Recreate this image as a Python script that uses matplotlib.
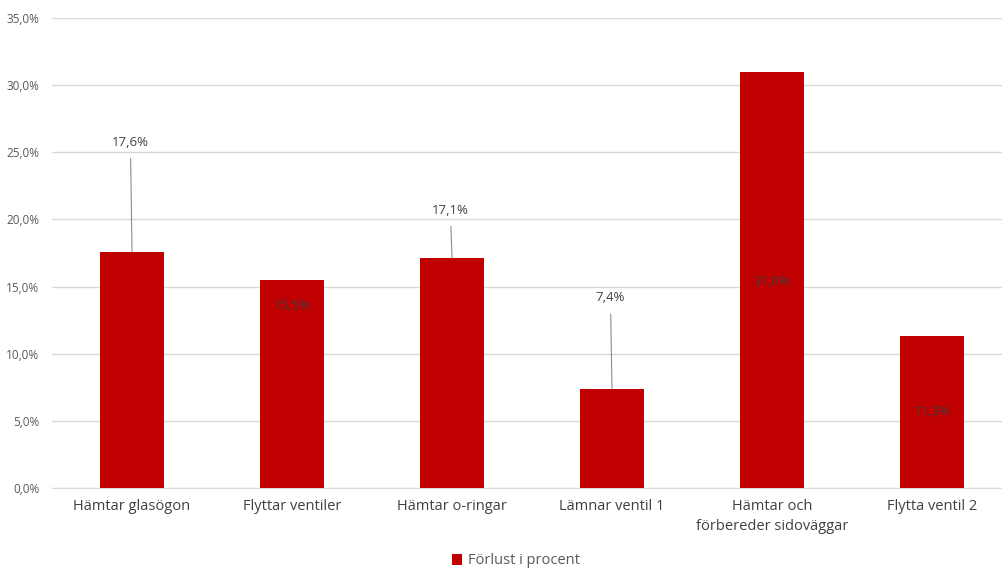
import matplotlib
matplotlib.use("Agg")
import matplotlib.pyplot as plt
from matplotlib.ticker import FuncFormatter, MultipleLocator

categories = ["Hämtar glasögon", "Flyttar ventiler", "Hämtar o-ringar",
              "Lämnar ventil 1", "Hämtar och\nförbereder sidoväggar", "Flytta ventil 2"]
values = [17.6, 15.5, 17.1, 7.4, 31.0, 11.3]
series_name = "Förlust i procent"

# label placement: (y position of label in %, leader line?)
label_pos = [(25.75, True), (13.6, False), (20.7, True), (14.15, True), (15.4, False), (5.66, False)]

plt.rcParams['font.family'] = ['Open Sans', 'DejaVu Sans']

fig = plt.figure(figsize=(10.03, 5.72), dpi=100)
W, H = 1003, 572
ax = fig.add_axes([52 / W, 1 - 488 / H, (1003 - 52) / W, (488 - 18) / H])

bar_color = "#c00000"
x = list(range(len(categories)))
ax.bar(x, values, width=0.4, color=bar_color, zorder=3, label=series_name)

ax.set_xlim(-0.5, 5.5 - 9 / 160)
ax.set_ylim(0, 35)
ax.yaxis.set_major_locator(MultipleLocator(5))
ax.yaxis.set_major_formatter(FuncFormatter(lambda v, _: f"{v:.1f}%".replace(".", ",")))
ax.grid(axis="y", color="#d9d9d9", linewidth=1, zorder=0)
for s in ["top", "right", "left"]:
    ax.spines[s].set_visible(False)
ax.spines["bottom"].set_color("#d9d9d9")
ax.tick_params(axis="y", length=0, labelsize=8.5, labelcolor="#595959", pad=9)
ax.tick_params(axis="x", length=0, labelsize=10.5, labelcolor="#404040", pad=8)
ax.set_xticks(x)
ax.set_xticklabels(categories, linespacing=1.45)

for xi, v, (ly, leader) in zip(x, values, label_pos):
    txt = f"{v:.1f}%".replace(".", ",")
    if leader:
        ax.annotate(txt, xy=(xi, v), xytext=(xi - 0.01, ly), ha="center", va="center",
                    fontsize=9.5, color="#404040", zorder=5,
                    arrowprops=dict(arrowstyle="-", color="#8c8c8c", lw=0.8,
                                    shrinkA=5, shrinkB=0))
    else:
        ax.text(xi, ly, txt, ha="center", va="center", fontsize=9.5,
                color="#404040", zorder=5)

leg = fig.legend(loc="center", bbox_to_anchor=(516 / W, 1 - 561 / H), frameon=False,
                 fontsize=10.5, handlelength=0.7, handleheight=0.7, handletextpad=0.4)
for t in leg.get_texts():
    t.set_color("#595959")

fig.savefig("out.png", dpi=100)
